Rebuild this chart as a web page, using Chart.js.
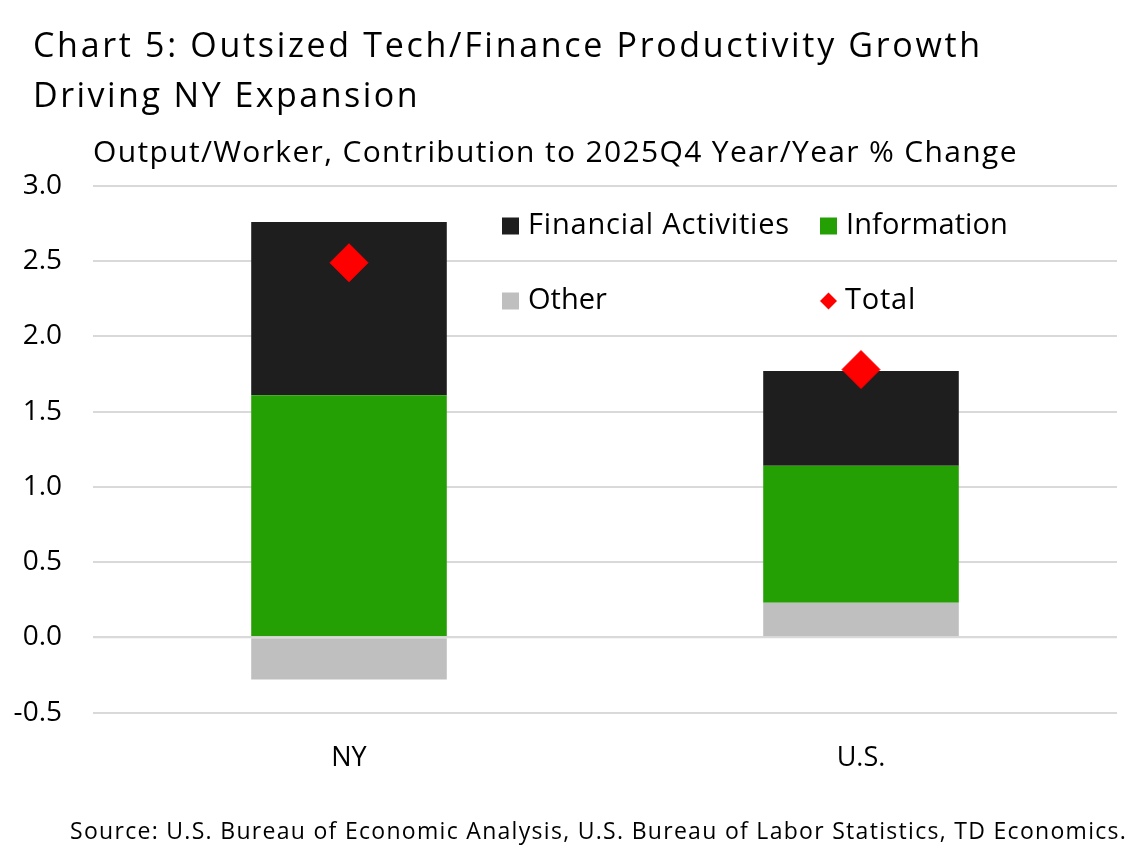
<!DOCTYPE html>
<html>
<head>
<meta charset="utf-8">
<script src="https://cdn.jsdelivr.net/npm/chart.js@4.4.1/dist/chart.umd.min.js"></script>
<style>
  body { margin: 0; background: #fff; }
  #c { display: block; }
</style>
</head>
<body>
<canvas id="c" width="1138" height="850"></canvas>
<script>
// data
var categories = ['NY', 'U.S.'];
var financial = [1.15, 0.63];
var information = [1.61, 0.91];
var other = [-0.28, 0.23];
var total = [2.49, 1.78];
var yTicks = [-0.5, 0.0, 0.5, 1.0, 1.5, 2.0, 2.5, 3.0];

var FONT = '"Open Sans", Lato, sans-serif';
var titleLines = ['Chart 5: Outsized Tech/Finance Productivity Growth', 'Driving NY Expansion'];
var subTitle = 'Output/Worker, Contribution to 2025Q4 Year/Year % Change';
var source = 'Source: U.S. Bureau of Economic Analysis, U.S. Bureau of Labor Statistics, TD Economics.';

var legendItems = [
  { text: 'Financial Activities', color: '#1e1e1e', shape: 'box', x: 502, y: 226, w: 262 },
  { text: 'Information', color: '#24a005', shape: 'box', x: 820, y: 226, w: 162 },
  { text: 'Other', color: '#bfbfbf', shape: 'box', x: 502, y: 301, w: 79 },
  { text: 'Total', color: '#ff0000', shape: 'diamond', x: 820, y: 301, w: 71 }
];

// draw text stretched to a width with letter spacing
function spacedText(ctx, text, x, y, width) {
  ctx.letterSpacing = '0px';
  var m = ctx.measureText(text).width;
  var sp = (width - m) / text.length;
  ctx.letterSpacing = sp.toFixed(2) + 'px';
  ctx.fillText(text, x, y);
  ctx.letterSpacing = '0px';
}

var textPlugin = {
  id: 'texts',
  afterDatasetsDraw: function(chart) {
    var ctx = chart.ctx;
    var y = chart.scales.y;
    var area = chart.chartArea;
    // zero line sits over the bars
    ctx.save();
    ctx.strokeStyle = '#d9d9d9';
    ctx.lineWidth = 2;
    ctx.beginPath();
    ctx.moveTo(area.left, y.getPixelForValue(0));
    ctx.lineTo(area.right, y.getPixelForValue(0));
    ctx.stroke();
    ctx.restore();
  },
  afterDraw: function(chart) {
    var ctx = chart.ctx;
    ctx.save();
    ctx.fillStyle = '#000';
    ctx.textBaseline = 'middle';
    ctx.textAlign = 'left';
    ctx.font = '34px ' + FONT;
    spacedText(ctx, titleLines[0], 33, 47, 950);
    spacedText(ctx, titleLines[1], 33, 97, 387);
    ctx.font = '30px ' + FONT;
    spacedText(ctx, subTitle, 93, 153, 925);

    // legend
    ctx.font = '29px ' + FONT;
    legendItems.forEach(function(it) {
      ctx.fillStyle = it.color;
      if (it.shape === 'box') {
        ctx.fillRect(it.x, it.y - 8.5, 17, 17);
        ctx.fillStyle = '#000';
        spacedText(ctx, it.text, it.x + 26, it.y, it.w);
      } else {
        var cx = it.x + 8.5, r = 8.5;
        ctx.beginPath();
        ctx.moveTo(cx - r, it.y);
        ctx.lineTo(cx, it.y - r);
        ctx.lineTo(cx + r, it.y);
        ctx.lineTo(cx, it.y + r);
        ctx.closePath();
        ctx.fill();
        ctx.fillStyle = '#000';
        spacedText(ctx, it.text, it.x + 25, it.y, it.w);
      }
    });

    ctx.font = '23px ' + FONT;
    spacedText(ctx, source, 70, 832, 1057);
    ctx.restore();
  }
};

var ctxEl = document.getElementById('c');

new Chart(ctxEl, {
  type: 'bar',
  data: {
    labels: categories,
    datasets: [
      {
        label: 'Total',
        type: 'line',
        data: total,
        stack: 'tot',
        showLine: false,
        pointStyle: 'rectRot',
        pointRadius: 19,
        pointHoverRadius: 19,
        backgroundColor: '#ff0000',
        borderColor: '#ff0000',
        borderWidth: 1,
        order: 0
      },
      {
        label: 'Other',
        data: other,
        backgroundColor: '#bfbfbf',
        stack: 's',
        order: 1
      },
      {
        label: 'Information',
        data: information,
        backgroundColor: '#24a005',
        stack: 's',
        order: 1
      },
      {
        label: 'Financial Activities',
        data: financial,
        backgroundColor: '#1e1e1e',
        stack: 's',
        order: 1
      }
    ]
  },
  options: {
    responsive: false,
    animation: false,
    layout: { padding: { top: 186, right: 21, bottom: 53, left: 0 } },
    plugins: {
      legend: { display: false },
      title: { display: false },
      tooltip: { enabled: false }
    },
    datasets: {
      bar: { categoryPercentage: 1, barPercentage: 0.382 }
    },
    scales: {
      x: {
        stacked: true,
        grid: { display: false },
        border: { display: false },
        ticks: { color: '#000', font: { family: FONT, size: 27 }, padding: 22 }
      },
      y: {
        stacked: true,
        min: -0.5,
        max: 3.0,
        afterFit: function(scale) { scale.width = 93; },
        afterBuildTicks: function(scale) {
          scale.ticks = yTicks.map(function(v) { return { value: v }; });
        },
        grid: { color: '#d9d9d9', lineWidth: 2, drawTicks: false },
        border: { display: false },
        ticks: {
          color: '#000',
          padding: 31,
          font: { family: FONT, size: 28 },
          callback: function(v) { return v.toFixed(1); }
        }
      }
    }
  },
  plugins: [textPlugin]
});
</script>
</body>
</html>
